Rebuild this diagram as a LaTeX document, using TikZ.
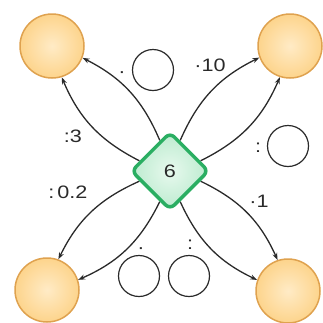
\documentclass[tikz,border=0pt]{standalone}
\usepackage{fontspec}
\setmainfont{Liberation Sans}[FakeStretch=1.2]
\usepackage{tikz}
\usetikzlibrary{arrows.meta, backgrounds, shapes.geometric, calc}
\definecolor{my_darkgray}{HTML}{2A2A2A}
\definecolor{my_lightorange}{HTML}{FFEBC6}
\definecolor{my_orange}{HTML}{FDD48C}
\definecolor{my_darkorange}{HTML}{DFA24F}
\definecolor{my_lightgreen}{HTML}{E8F9EE}
\definecolor{my_green}{HTML}{BCEBCF}
\definecolor{my_darkgreen}{HTML}{2AAE62}

\begin{document}
\begin{tikzpicture}[
    x=1pt,
    y=-1pt,
    line cap=round,
    line join=round,
    >={Stealth[length=7pt,width=5pt]},
    every node/.style={font=\fontsize{18}{20}\selectfont, text=my_darkgray},
    corner/.style={circle, minimum size=64pt, inner sep=0pt,
        inner color=my_lightorange, outer color=my_orange,
        draw=my_darkorange, line width=1.5pt},
    blank/.style={circle, minimum size=41pt, inner sep=0pt,
        fill=white, draw=my_darkgray, line width=1.2pt},
    label/.style={anchor=base, inner sep=0pt},
    link/.style={->, line width=1.3pt, draw=my_darkgray}
]

% Fix the size of the picture
\useasboundingbox (0,0) rectangle (323,322);

% Corner circles
\node[corner] (tl) at (52,46) {};
\node[corner] (tr) at (290,46) {};
\node[corner] (bl) at (47,290) {};
\node[corner] (br) at (288,291) {};

% Number in the middle
\node[diamond, minimum width=78pt, minimum height=78pt, inner sep=0pt,
      rounded corners=6pt, inner color=my_lightgreen, outer color=my_green,
      draw=my_darkgreen, line width=3.5pt] (d) at (170,171) {6};

% Pairs of arrows from the middle to each corner
\begin{scope}[on background layer]
\draw[link] ($(d.north)!0.25!(d.west)$) to[bend right=20] (tl);
\draw[link] ($(d.west)!0.25!(d.north)$) to[bend left=20] (tl);

\draw[link] ($(d.north)!0.25!(d.east)$) to[bend left=20] (tr);
\draw[link] ($(d.east)!0.25!(d.north)$) to[bend right=20] (tr);

\draw[link] ($(d.west)!0.25!(d.south)$) to[bend right=20] (bl);
\draw[link] ($(d.south)!0.25!(d.west)$) to[bend left=20] (bl);

\draw[link] ($(d.east)!0.25!(d.south)$) to[bend left=20] (br);
\draw[link] ($(d.south)!0.25!(d.east)$) to[bend right=20] (br);
\end{scope}

% Operations on the arrows
\node[label] (op-tl) at (73,142) {:3};
\node[label] (op-tr) at (210,71) {·10};
\node[label] (op-bl) at (68,198) {:\,0.2};
\node[label] (op-br) at (259,207) {·1};

% Empty circles to fill in
\node[blank] (b-top) at (153,70) {};
\node[blank] (b-right) at (288,146) {};
\node[blank] (b-low1) at (139,276) {};
\node[blank] (b-low2) at (189,276) {};

% Signs in front of the empty circles
\node[label] (s-top) at (122,77) {·};
\node[label] (s-right) at (258,152) {:};
\node[label] (s-low1) at (141,253) {·};
\node[label] (s-low2) at (190,249) {:};

\end{tikzpicture}
\end{document}
